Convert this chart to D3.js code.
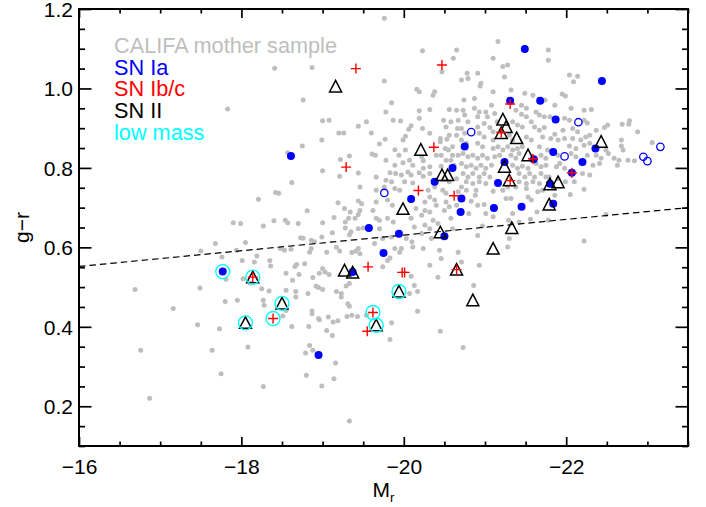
<!doctype html>
<meta charset=utf8>
<title>g-r versus M_r</title>
<style>
  body {
    margin: 0;
    background: white;
  }

  svg {
    display: block;
    font-family: "Liberation Sans", Arial, Helvetica, sans-serif;
  }

  .frame {
    fill: none;
    stroke: black;
    stroke-width: 2;
  }

  .axis line {
    stroke: black;
    stroke-width: 1.7;
  }

  .axis .domain {
    display: none;
  }

  .axis text {
    fill: black;
    font-size: 21px;
  }

  .cut {
    fill: none;
    stroke: black;
    stroke-width: 1.2;
    stroke-dasharray: 6.5 4;
  }
</style>
<svg width=706 height=507></svg>
<script src=https://cdn.jsdelivr.net/npm/d3@7></script>
<script>
  // CALIFA mother sample, [M_r, g-r]
  var califa = [
    [-17.83,0.948],[-18.41,1.051],[-18.87,1.053],[-18.76,0.971],[-19.00,0.919],[-19.08,0.920],[-19.44,0.905],[-19.54,0.916],
    [-19.20,0.888],[-19.26,0.888],[-18.99,0.870],[-18.75,0.855],[-18.57,0.838],[-19.33,0.830],[-19.22,0.821],[-18.62,0.763],
    [-19.00,0.793],[-19.21,0.779],[-19.44,0.787],[-18.42,0.738],[-18.46,0.736],[-18.21,0.721],[-19.19,0.712],[-18.81,0.692],
    [-19.27,0.698],[-19.34,0.689],[-19.14,0.675],[-18.54,0.668],[-18.57,0.662],[-18.40,0.667],[-18.27,0.654],[-17.90,0.662],
    [-17.99,0.660],[-19.28,0.664],[-19.32,0.673],[-19.12,0.637],[-18.73,0.624],[-18.76,0.623],[-18.86,0.618],[-18.90,0.614],
    [-18.99,0.626],[-18.05,0.612],[-17.68,0.610],[-17.50,0.591],[-17.94,0.593],[-18.48,0.597],[-18.53,0.593],[-18.61,0.595],
    [-19.17,0.600],[-19.21,0.591],[-19.05,0.588],[-19.44,0.647],[-18.19,0.578],[-17.76,0.576],[-19.36,0.587],[-18.86,0.597],
    [-19.33,0.632],[-16.69,0.494],[-17.16,0.446],[-17.49,0.498],[-17.46,0.405],[-16.76,0.341],[-16.87,0.220],[-17.64,0.341],
    [-17.75,0.282],[-17.73,0.395],[-17.80,0.464],[-17.95,0.467],[-17.81,0.520],[-18.02,0.521],[-18.11,0.510],[-18.08,0.349],
    [-18.27,0.250],[-18.16,0.563],[-18.01,0.567],[-18.35,0.567],[-18.36,0.553],[-18.25,0.496],[-18.34,0.490],[-18.27,0.467],
    [-18.28,0.454],[-18.55,0.535],[-18.55,0.492],[-18.66,0.552],[-18.78,0.559],[-18.63,0.517],[-18.71,0.532],[-18.67,0.489],
    [-18.67,0.475],[-18.55,0.441],[-18.62,0.401],[-18.82,0.484],[-18.83,0.401],[-18.87,0.440],[-18.87,0.433],[-18.95,0.421],
    [-18.96,0.535],[-18.88,0.524],[-19.03,0.538],[-19.08,0.532],[-18.95,0.499],[-19.00,0.494],[-19.17,0.489],[-19.23,0.484],
    [-19.07,0.425],[-19.05,0.391],[-19.12,0.378],[-18.84,0.353],[-18.79,0.334],[-18.88,0.341],[-19.16,0.309],[-18.80,0.278],
    [-19.14,0.269],[-18.99,0.251],[-19.33,0.163],[-19.31,0.458],[-19.33,0.452],[-19.30,0.426],[-19.36,0.429],[-19.43,0.426],
    [-19.19,0.415],[-19.46,0.752],[-19.44,0.717],[-19.48,0.710],[-19.46,0.693],[-19.44,0.683],[-19.40,0.673],[-18.70,0.660],
    [-19.00,0.662],[-19.28,0.649],[-19.50,0.649],[-19.35,0.639],[-19.44,0.597],[-19.41,0.591],[-18.84,0.588],[-18.68,0.557],
    [-19.00,0.547],[-19.29,0.503],[-19.33,0.509],[-18.92,0.502],[-19.23,0.475],[-18.51,0.427],[-19.13,0.412],[-18.96,0.418],
    [-20.23,1.095],[-20.65,1.097],[-20.61,1.076],[-20.47,1.042],[-19.76,1.019],[-20.16,0.998],[-20.19,0.992],[-20.38,0.992],
    [-20.36,0.983],[-19.85,0.964],[-20.32,0.947],[-20.56,0.947],[-20.65,0.945],[-19.78,0.941],[-20.19,0.944],[-19.87,0.920],
    [-19.96,0.918],[-20.19,0.925],[-20.49,0.920],[-20.58,0.916],[-20.67,0.920],[-20.09,0.906],[-20.06,0.897],[-20.02,0.880],
    [-20.23,0.899],[-20.52,0.903],[-19.60,0.888],[-20.32,0.887],[-19.77,0.872],[-19.99,0.870],[-20.56,0.882],[-20.53,0.872],
    [-20.45,0.874],[-20.45,0.866],[-20.66,0.899],[-20.65,0.882],[-19.70,0.860],[-19.61,0.835],[-19.65,0.832],[-19.89,0.846],
    [-19.94,0.832],[-20.02,0.845],[-20.51,0.849],[-20.55,0.845],[-20.60,0.853],[-20.40,0.832],[-20.46,0.832],[-20.60,0.832],
    [-20.67,0.832],[-19.78,0.819],[-19.89,0.807],[-19.99,0.813],[-20.07,0.819],[-20.11,0.807],[-20.22,0.828],[-20.24,0.818],
    [-20.32,0.803],[-20.46,0.804],[-20.52,0.819],[-19.83,0.788],[-19.90,0.786],[-19.97,0.782],[-20.05,0.790],[-20.09,0.782],
    [-20.19,0.788],[-20.24,0.779],[-20.24,0.799],[-20.32,0.786],[-19.66,0.777],[-19.78,0.769],[-19.85,0.765],[-20.01,0.765],
    [-20.11,0.762],[-20.58,0.819],[-20.62,0.807],[-20.65,0.773],[-20.56,0.765],[-19.66,0.744],[-19.76,0.752],[-19.89,0.748],
    [-19.95,0.744],[-20.30,0.744],[-20.38,0.752],[-20.32,0.727],[-20.48,0.744],[-20.52,0.736],[-20.67,0.740],[-19.66,0.714],
    [-19.62,0.693],[-19.80,0.719],[-19.86,0.706],[-20.26,0.714],[-20.26,0.693],[-20.38,0.719],[-20.40,0.706],[-20.52,0.714],
    [-20.56,0.702],[-20.50,0.693],[-20.65,0.706],[-20.15,0.698],[-20.22,0.681],[-20.32,0.689],[-19.66,0.673],[-19.70,0.668],
    [-19.80,0.673],[-19.87,0.664],[-20.09,0.673],[-20.58,0.673],[-20.36,0.668],[-20.42,0.660],[-20.13,0.651],[-20.26,0.656],
    [-20.32,0.647],[-20.60,0.647],[-19.70,0.647],[-19.64,0.610],[-19.74,0.622],[-19.85,0.626],[-20.03,0.622],[-20.10,0.614],
    [-20.22,0.635],[-20.34,0.622],[-19.89,0.597],[-19.97,0.597],[-20.11,0.601],[-20.24,0.597],[-20.44,0.593],[-20.67,0.588],
    [-19.83,0.573],[-20.32,0.555],[-19.74,0.551],[-20.42,0.525],[-20.13,0.504],[-20.17,0.489],[-20.07,0.484],[-20.17,0.439],
    [-19.85,0.410],[-20.45,0.389],[-19.46,0.584],[-19.80,0.567],[-19.95,0.588],[-20.09,0.527],[-20.46,0.572],[-20.71,0.563],
    [-20.93,0.555],[-20.86,0.504],[-20.73,0.348],[-19.54,0.429],[-19.83,0.368],[-20.71,0.752],[-20.77,0.744],[-20.89,0.744],
    [-20.88,0.731],[-21.10,0.741],[-21.22,0.744],[-21.28,0.752],[-21.38,0.752],[-21.51,0.748],[-21.65,0.740],[-21.71,0.744],
    [-20.83,0.716],[-20.91,0.706],[-20.99,0.708],[-21.26,0.723],[-21.32,0.723],[-21.53,0.727],[-21.57,0.719],[-21.01,0.685],
    [-21.10,0.677],[-20.80,0.685],[-21.34,0.685],[-21.29,0.668],[-21.42,0.664],[-21.56,0.671],[-21.64,0.689],[-21.78,0.668],
    [-20.97,0.654],[-20.91,0.630],[-21.30,0.622],[-21.28,0.601],[-22.22,0.746],[-22.05,0.733],[-21.86,0.731],[-22.49,0.683],
    [-22.22,0.616],[-21.16,1.118],[-21.10,1.076],[-21.22,1.055],[-21.28,1.059],[-20.91,1.038],[-20.78,1.038],[-21.24,1.029],
    [-20.71,1.021],[-20.95,1.013],[-20.94,1.006],[-21.10,0.992],[-21.49,0.988],[-21.59,0.983],[-20.74,0.971],[-20.87,0.975],
    [-21.08,0.958],[-21.45,0.958],[-21.51,0.950],[-21.74,0.971],[-20.73,0.945],[-20.75,0.933],[-20.87,0.950],[-20.93,0.941],
    [-20.91,0.929],[-21.01,0.941],[-21.03,0.929],[-21.12,0.937],[-21.15,0.916],[-21.38,0.945],[-21.45,0.935],[-21.51,0.929],
    [-21.63,0.941],[-21.67,0.933],[-21.73,0.929],[-20.79,0.916],[-20.91,0.903],[-20.99,0.912],[-21.06,0.902],[-21.10,0.891],
    [-21.34,0.916],[-21.40,0.908],[-21.46,0.903],[-21.57,0.916],[-21.61,0.903],[-21.67,0.895],[-21.73,0.902],[-20.71,0.899],
    [-20.75,0.887],[-20.93,0.887],[-20.99,0.878],[-21.10,0.870],[-21.30,0.882],[-21.34,0.870],[-21.51,0.878],[-21.57,0.870],
    [-21.71,0.878],[-20.71,0.870],[-20.77,0.862],[-20.91,0.862],[-20.97,0.853],[-21.10,0.849],[-21.16,0.853],[-21.22,0.845],
    [-21.28,0.853],[-21.34,0.845],[-21.40,0.849],[-21.46,0.853],[-21.67,0.853],[-21.77,0.845],[-20.73,0.836],[-20.79,0.828],
    [-20.85,0.832],[-20.91,0.824],[-20.97,0.832],[-21.03,0.824],[-21.12,0.828],[-21.18,0.832],[-21.32,0.832],[-21.38,0.824],
    [-21.42,0.836],[-21.69,0.832],[-21.75,0.824],[-20.71,0.811],[-20.77,0.803],[-20.83,0.807],[-20.89,0.799],[-20.95,0.807],
    [-21.01,0.799],[-21.08,0.807],[-21.34,0.807],[-21.40,0.799],[-21.46,0.804],[-21.53,0.799],[-21.63,0.811],[-21.69,0.803],
    [-21.75,0.807],[-20.73,0.786],[-20.79,0.777],[-20.85,0.786],[-20.93,0.777],[-20.99,0.786],[-21.06,0.777],[-21.42,0.786],
    [-21.49,0.777],[-21.55,0.786],[-21.61,0.777],[-21.69,0.786],[-21.75,0.777],[-20.77,0.765],[-20.85,0.761],[-20.93,0.765],
    [-21.01,0.761],[-21.42,0.765],[-21.51,0.761],[-21.59,0.765],[-21.67,0.761],[-19.76,1.177],[-21.78,1.097],[-21.78,1.071],
    [-20.79,1.025],[-21.32,0.996],[-22.04,1.034],[-22.14,1.031],[-22.09,1.017],[-21.95,0.986],[-21.99,0.981],[-21.86,0.958],
    [-22.06,0.950],[-22.22,0.945],[-22.31,0.947],[-21.80,0.929],[-21.98,0.925],[-22.04,0.920],[-22.22,0.920],[-22.26,0.913],
    [-22.51,0.908],[-22.47,0.902],[-22.78,0.919],[-22.77,0.910],[-22.69,0.910],[-22.88,0.891],[-22.37,0.895],[-22.29,0.882],
    [-21.96,0.895],[-21.86,0.885],[-22.08,0.899],[-22.14,0.891],[-21.81,0.874],[-21.90,0.870],[-21.98,0.874],[-22.08,0.874],
    [-22.18,0.870],[-22.24,0.878],[-22.04,0.855],[-22.12,0.849],[-22.22,0.857],[-22.29,0.862],[-22.68,0.870],[-22.68,0.855],
    [-22.70,0.845],[-22.49,0.845],[-22.52,0.836],[-22.37,0.832],[-22.43,0.824],[-22.06,0.836],[-22.12,0.828],[-22.26,0.832],
    [-21.90,0.832],[-22.59,0.824],[-22.65,0.819],[-22.76,0.819],[-21.92,0.811],[-21.88,0.803],[-21.98,0.799],[-22.33,0.807],
    [-22.41,0.811],[-22.63,0.807],[-21.79,0.777],[-21.90,0.773],[-22.20,0.786],[-22.29,0.782],[-21.99,0.765],[-22.10,0.765],
    [-22.84,0.818],[-23.06,0.864]
  ];

  // SN Ia hosts (filled) and SN Ia hosts drawn open
  var snIa = [
    [-18.61,0.830],[-21.49,1.099],[-22.44,1.019],[-21.31,0.969],[-21.68,0.969],[-21.87,0.922],[-20.75,0.854],[-21.84,0.840],
    [-22.36,0.849],[-22.20,0.815],[-21.24,0.815],[-21.60,0.822],[-20.60,0.800],[-20.38,0.765],[-21.80,0.760],[-21.16,0.762],
    [-22.07,0.788],[-20.09,0.722],[-20.71,0.723],[-20.70,0.689],[-21.11,0.699],[-21.45,0.702],[-21.84,0.710],[-19.57,0.649],
    [-19.94,0.634],[-20.50,0.628],[-19.75,0.586],[-19.37,0.538],[-17.77,0.539],[-18.95,0.329]
  ];
  var snIaOpen = [
    [-22.15,0.915],[-20.83,0.890],[-21.98,0.829],[-23.16,0.853],[-22.95,0.828],[-23.00,0.817],[-19.76,0.737]
  ];

  var snIbc = [
    [-19.41,1.050],[-20.47,1.059],[-19.29,0.802],[-20.37,0.852],[-20.18,0.743],[-20.62,0.730],[-21.31,0.961],[-21.20,0.889],
    [-21.59,0.823],[-21.31,0.768],[-22.07,0.788],[-19.56,0.551],[-19.98,0.537],[-20.01,0.537],[-20.65,0.544],[-19.62,0.436],
    [-19.55,0.389],[-18.14,0.525],[-18.39,0.421]
  ];

  var snII = [
    [-19.16,1.005],[-20.21,0.846],[-20.47,0.782],[-20.54,0.782],[-21.22,0.922],[-21.26,0.903],[-21.20,0.888],[-21.39,0.875],
    [-21.53,0.832],[-21.24,0.803],[-21.30,0.769],[-21.80,0.759],[-21.90,0.764],[-22.43,0.866],[-19.99,0.697],[-20.45,0.638],
    [-21.33,0.649],[-21.79,0.708],[-21.10,0.597],[-19.27,0.542],[-19.37,0.537],[-18.14,0.525],[-18.50,0.459],[-18.05,0.410],
    [-20.65,0.544],[-19.94,0.489],[-20.85,0.467],[-19.66,0.404]
  ];

  var lowMass = [
    [-17.77,0.539],[-18.14,0.525],[-18.50,0.459],[-18.05,0.410],[-18.39,0.421],[-19.94,0.489],[-19.62,0.436],[-19.66,0.404]
  ];

  // dividing line, end points
  var cutLine = [[-16, 0.552], [-23.5, 0.70]];

  var xTicks = [-16, -18, -20, -22];
  var yTicks = [0.2, 0.4, 0.6, 0.8, 1.0, 1.2];

  var legendItems = [
    {label: 'CALIFA mother sample', color: '#bebebe'},
    {label: 'SN Ia', color: '#0000ff'},
    {label: 'SN Ib/c', color: '#ff0000'},
    {label: 'SN II', color: '#000000'},
    {label: 'low mass', color: '#00ffff'}
  ];

  var svg = d3.select('svg');
  var margin = {top: 9, right: 18, bottom: 61, left: 79};
  var width = +svg.attr('width') - margin.left - margin.right;
  var height = +svg.attr('height') - margin.top - margin.bottom;
  var g = svg.append('g').attr('transform', 'translate(' + margin.left + ',' + margin.top + ')');

  var x = d3.scaleLinear().domain([-16, -23.5]).range([0, width]);
  var y = d3.scaleLinear().domain([0.1, 1.2]).range([height, 0]);

  var xMinor = d3.range(-16, -23.51, -0.5).filter(function(d) { return d % 2 !== 0; });
  var yMinor = d3.range(0.1, 1.201, 0.05).filter(function(d) {
    return Math.abs(d * 5 - Math.round(d * 5)) > 0.01;
  });

  // ticks all round, pointing in (IDL style)
  function addAxis(axis, values, size, transform, labels) {
    var a = g.append('g')
      .attr('class', 'axis')
      .attr('transform', transform)
      .call(axis.tickValues(values).tickSize(-size).tickSizeOuter(0));
    a.attr('font-size', null).attr('font-family', null);
    if (!labels) a.selectAll('text').remove();
    return a;
  }

  addAxis(d3.axisBottom(x).tickPadding(13).tickFormat(d3.format('d')), xTicks, 9, 'translate(0,' + height + ')', true);
  addAxis(d3.axisBottom(x), xMinor, 4.5, 'translate(0,' + height + ')', false);
  addAxis(d3.axisTop(x), xTicks, 9, null, false);
  addAxis(d3.axisTop(x), xMinor, 4.5, null, false);
  addAxis(d3.axisLeft(y).tickPadding(6).tickFormat(d3.format('.1f')), yTicks, 12.5, null, true);
  addAxis(d3.axisLeft(y), yMinor, 6, null, false);
  addAxis(d3.axisRight(y), yTicks, 12.5, 'translate(' + width + ',0)', false);
  addAxis(d3.axisRight(y), yMinor, 6, 'translate(' + width + ',0)', false);

  g.selectAll('.axis text').attr('dy', function() {
    return d3.select(this.parentNode.parentNode).attr('transform') ? '0.71em' : '0.35em';
  });

  g.append('rect')
    .attr('class', 'frame')
    .attr('width', width)
    .attr('height', height);

  // axis titles
  svg.append('text')
    .attr('transform', 'translate(29,' + (margin.top + height / 2) + ') rotate(-90)')
    .attr('text-anchor', 'middle')
    .attr('font-size', 21)
    .text('g\u2212r');

  var xt = svg.append('text')
    .attr('x', margin.left + width / 2 - 11)
    .attr('y', 497)
    .attr('font-size', 21)
    .text('M');
  xt.append('tspan')
    .attr('dy', 5)
    .attr('font-size', 13)
    .text('r');

  var plot = g.append('g');

  plot.selectAll('.califa')
    .data(califa)
    .enter()
    .append('circle')
    .attr('class', 'califa')
    .attr('cx', function(d) { return x(d[0]); })
    .attr('cy', function(d) { return y(d[1]); })
    .attr('r', 2.5)
    .attr('fill', '#bebebe');

  plot.append('line')
    .attr('class', 'cut')
    .attr('x1', x(cutLine[0][0]))
    .attr('y1', y(cutLine[0][1]))
    .attr('x2', x(cutLine[1][0]))
    .attr('y2', y(cutLine[1][1]));

  plot.selectAll('.ia')
    .data(snIa)
    .enter()
    .append('circle')
    .attr('class', 'ia')
    .attr('cx', function(d) { return x(d[0]); })
    .attr('cy', function(d) { return y(d[1]); })
    .attr('r', 4)
    .attr('fill', '#0000ff');

  plot.selectAll('.iaopen')
    .data(snIaOpen)
    .enter()
    .append('circle')
    .attr('class', 'iaopen')
    .attr('cx', function(d) { return x(d[0]); })
    .attr('cy', function(d) { return y(d[1]); })
    .attr('r', 3.7)
    .attr('fill', 'none')
    .attr('stroke', '#0000ff')
    .attr('stroke-width', 1.3);

  plot.selectAll('.ii')
    .data(snII)
    .enter()
    .append('path')
    .attr('class', 'ii')
    .attr('transform', function(d) { return 'translate(' + x(d[0]) + ',' + y(d[1]) + ')'; })
    .attr('d', 'M0,-6L6,5.5L-6,5.5Z')
    .attr('fill', 'none')
    .attr('stroke', 'black')
    .attr('stroke-width', 1.5)
    .attr('stroke-linejoin', 'miter');

  plot.selectAll('.ibc')
    .data(snIbc)
    .enter()
    .append('path')
    .attr('class', 'ibc')
    .attr('transform', function(d) { return 'translate(' + x(d[0]) + ',' + y(d[1]) + ')'; })
    .attr('d', 'M-5,0H5M0,-5V5')
    .attr('stroke', '#ff0000')
    .attr('stroke-width', 1.4);

  plot.selectAll('.low')
    .data(lowMass)
    .enter()
    .append('circle')
    .attr('class', 'low')
    .attr('cx', function(d) { return x(d[0]); })
    .attr('cy', function(d) { return y(d[1]); })
    .attr('r', 7)
    .attr('fill', 'none')
    .attr('stroke', '#00ffff')
    .attr('stroke-width', 1.4);

  // legend
  svg.selectAll('.legend')
    .data(legendItems)
    .enter()
    .append('text')
    .attr('class', 'legend')
    .attr('x', 114)
    .attr('y', function(d, i) { return 53 + i * 21.7; })
    .attr('font-size', 21.7)
    .attr('fill', function(d) { return d.color; })
    .text(function(d) { return d.label; });
</script>
